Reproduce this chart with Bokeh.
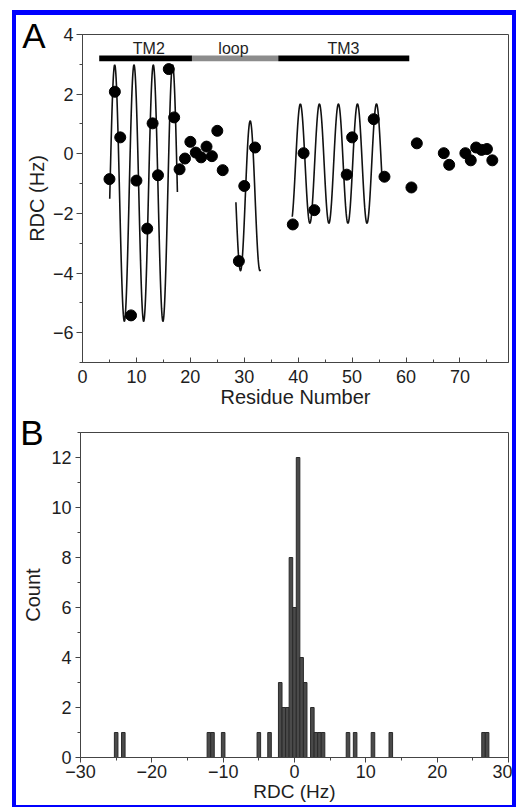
import numpy as np
from bokeh.plotting import figure
from bokeh.models import (ColumnDataSource, SingleIntervalTicker, FixedTicker, LinearAxis,
                          Range1d, Spacer)
from bokeh.layouts import column, row
from bokeh.embed import file_html
from bokeh.resources import INLINE
from bokeh.core.properties import value

# ---------------- data: panel A ----------------
residue = [5, 6, 7, 9, 10, 12, 13, 14, 16, 17, 18, 19, 20, 21, 22, 23, 24, 25, 26,
           29, 30, 32, 39, 41, 43, 49, 50, 54, 56, 61, 62, 67, 68, 71, 72, 73, 74, 75, 76]
rdc = [-0.85, 2.08, 0.55, -5.42, -0.90, -2.51, 1.02, -0.72, 2.84, 1.22, -0.52, -0.16,
       0.40, 0.04, -0.12, 0.24, -0.08, 0.77, -0.55, -3.60, -1.08, 0.21, -2.37, 0.02,
       -1.89, -0.70, 0.55, 1.16, -0.77, -1.13, 0.35, 0.02, -0.37, 0.02, -0.22, 0.21,
       0.13, 0.16, -0.22]

# dipolar-wave fit parameters
wave_start = [5.05, 28.45, 38.9]
wave_end = [17.6, 33.0, 55.5]
wave_center = [-1.32, -1.41, -0.33]
wave_amp = [4.3, 2.51, 2.0]
wave_period = [3.58, 3.6, 3.53]
wave_peak = [5.97, 31.1, 40.4]

region_names = ["TM2", "loop", "TM3"]
region_start = [3.1, 20.3, 36.3]
region_end = [20.3, 36.3, 60.6]
region_label_x = [12.3, 28.0, 48.4]
region_colors = ["#000000", "#8c8c8c", "#000000"]

# ---------------- data: panel B ----------------
hist_center = [-25, -24, -12, -11.5, -10, -5, -3.5, -2, -1.5, -1, -0.5, 0, 0.5, 1, 1.5,
               2.5, 3, 3.5, 4, 7.5, 8.5, 11, 13.5, 26.5, 27]
hist_count = [1, 1, 1, 1, 1, 1, 1, 3, 2, 2, 8, 6, 12, 4, 3, 2, 1, 1, 1, 1, 1, 1, 1, 1, 1]
hist_bin = 0.5

panel_letters = ["A", "B"]
letter_pos = [4.0, 13.0]   # y position (data units, top of each frame) of the letters

FONT = "Liberation Sans"
AX = "#444444"
TXT = "#1e1e1e"
BLUE = "#0000ff"

W = 496
H1 = 397
H2 = 393


def style(p):
    p.grid.visible = False
    p.outline_line_color = AX
    p.outline_line_width = 1
    p.background_fill_color = "white"
    p.border_fill_color = "white"
    for ax in p.axis:
        ax.axis_line_color = AX
        ax.major_tick_line_color = AX
        ax.minor_tick_line_color = AX
        ax.major_label_text_font = FONT
        ax.major_label_text_font_size = "18px"
        ax.major_label_text_color = TXT
        ax.axis_label_text_font = FONT
        ax.axis_label_text_font_size = "20px"
        ax.axis_label_text_font_style = "normal"
        ax.axis_label_text_color = TXT


def letter_axis(p, letter, ypos, standoff):
    ax = LinearAxis(ticker=FixedTicker(ticks=[ypos]),
                    major_label_overrides={ypos: letter})
    ax.axis_line_color = None
    ax.major_tick_line_color = None
    ax.minor_tick_line_color = None
    ax.major_tick_in = 0
    ax.major_tick_out = 0
    ax.minor_tick_in = 0
    ax.minor_tick_out = 0
    ax.major_label_standoff = standoff
    ax.major_label_text_font = FONT
    ax.major_label_text_font_size = "35px"
    ax.major_label_text_color = "black"
    p.add_layout(ax, "left")


# ---------------- panel A ----------------
p1 = figure(width=W, height=H1, x_range=Range1d(0, 79), y_range=Range1d(-7, 4),
            output_backend="svg", toolbar_location=None,
            min_border_left=66, min_border_right=4, min_border_top=19, min_border_bottom=50)
style(p1)
p1.xaxis.ticker = SingleIntervalTicker(interval=10, num_minor_ticks=2)
p1.yaxis.ticker = SingleIntervalTicker(interval=2, num_minor_ticks=2)
p1.xaxis.major_tick_in = 5
p1.xaxis.major_tick_out = 0
p1.xaxis.minor_tick_in = 3
p1.xaxis.minor_tick_out = 0
p1.xaxis.major_label_standoff = 7
p1.xaxis.axis_label_standoff = 0
p1.yaxis.major_tick_in = 0
p1.yaxis.major_tick_out = 6
p1.yaxis.minor_tick_in = 0
p1.yaxis.minor_tick_out = 3
p1.yaxis.major_label_standoff = 3
p1.yaxis.axis_label_standoff = 2
p1.xaxis.axis_label = "Residue Number"
p1.yaxis.axis_label = "RDC (Hz)"

for s, e, c, a, per, pk in zip(wave_start, wave_end, wave_center, wave_amp, wave_period, wave_peak):
    xs = np.linspace(s, e, 300)
    ys = c + a * np.cos(2 * np.pi * (xs - pk) / per)
    p1.line(xs, ys, line_color="#111111", line_width=1.6)

p1.scatter(residue, rdc, size=11, fill_color="black", line_color="black")

p1.hbar(y=[3.2] * 3, left=region_start, right=region_end, height=0.19,
        fill_color=region_colors, line_color=None)
p1.text(x=region_label_x, y=[3.53] * 3, text=region_names, text_align="center",
        text_baseline="alphabetic", text_font=value(FONT), text_font_size="16px",
        text_color=TXT)

letter_axis(p1, panel_letters[0], letter_pos[0], -23)

# ---------------- panel B ----------------
p2 = figure(width=W, height=H2, x_range=Range1d(-30, 30), y_range=Range1d(0, 13),
            output_backend="svg", toolbar_location=None,
            min_border_left=64, min_border_right=4, min_border_top=20, min_border_bottom=48)
style(p2)
p2.xaxis.ticker = SingleIntervalTicker(interval=10, num_minor_ticks=2)
p2.yaxis.ticker = SingleIntervalTicker(interval=2, num_minor_ticks=2)
for ax in p2.axis:
    ax.major_tick_in = 0
    ax.major_tick_out = 5
    ax.minor_tick_in = 0
    ax.minor_tick_out = 3
p2.xaxis.major_label_standoff = 2
p2.xaxis.axis_label_standoff = 0
p2.xaxis.axis_label_text_font_size = "19px"
p2.yaxis.major_label_standoff = 4
p2.yaxis.axis_label_standoff = 4
p2.xaxis.axis_label = "RDC (Hz)"
p2.yaxis.axis_label = "Count"

src = ColumnDataSource(dict(x=hist_center, top=hist_count))
p2.vbar(x="x", top="top", width=hist_bin, bottom=0, source=src,
        fill_color="#4a4a4a", line_color="#2a2a2a", line_width=1)

letter_axis(p2, panel_letters[1], letter_pos[1], -24)

# ---------------- blue frame around the figure ----------------
def blue(w, h):
    return Spacer(width=w, height=h, styles={"background-color": BLUE})

inner = column(
    blue(W + 8, 5),
    row(blue(4, H1), p1, blue(4, H1), spacing=0),
    row(blue(4, H2), p2, blue(4, H2), spacing=0),
    blue(W + 8, 2),
    spacing=0)
layout = column(Spacer(width=10, height=10),
                row(Spacer(width=12, height=H1 + H2 + 7), inner, spacing=0),
                spacing=0)

open("out.html", "w").write(file_html(layout, INLINE))
